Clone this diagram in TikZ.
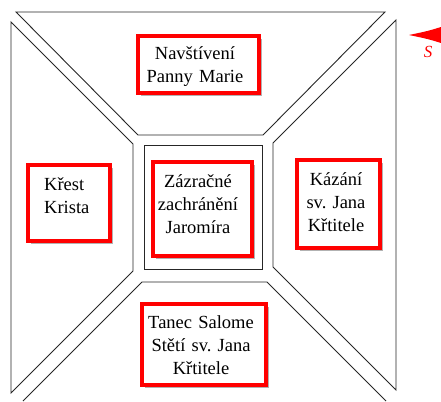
\documentclass[tikz,border=0pt]{standalone}
\usepackage{fontspec}
\setmainfont{Liberation Serif}
\newfontfamily\tnrfont{Liberation Serif}
\frenchspacing
\usetikzlibrary{shadows}
\begin{document}
\begin{tikzpicture}[x=1pt,y=-1pt,
  wall/.style={draw=black!85, line width=0.9pt, line join=miter},
  redbox/.style={draw=red, line width=4pt, fill=white, inner sep=0pt, outer sep=0pt,
     drop shadow={shadow xshift=3pt, shadow yshift=-3pt, opacity=0.3, fill=black}},
  txt/.style={font=\tnrfont\fontsize{18.5}{23}\selectfont\frenchspacing, inner sep=0pt, text width=140pt, align=center, anchor=base}]
\useasboundingbox (0,0) rectangle (441,401);
% walls
\draw[wall] (16,12) -- (385,12) -- (263,135) -- (138,135) -- cycle;
\draw[wall] (11,22) -- (133,144) -- (133,271) -- (11,393) -- cycle;
\draw[wall] (396,20) -- (273,143) -- (273,267) -- (396,390) -- cycle;
\draw[wall] (23,401) -- (142,282) -- (267,282) -- (386,401);
\draw[wall] (144,145) rectangle (262,269);
% boxes
\node[redbox, minimum width=121pt, minimum height=57pt] (visit) at (198.5,64.5) {};
\node[redbox, minimum width=82pt, minimum height=76pt] (krest) at (69,203) {};
\node[redbox, minimum width=99pt, minimum height=94pt] (zazr) at (202.5,209) {};
\node[redbox, minimum width=83pt, minimum height=88pt] (kazani) at (338.5,204) {};
\node[redbox, minimum width=124pt, minimum height=81pt] (tanec) at (204,344.5) {};
% texts
\node[txt] (tvisit) at (195,60) {Navštívení\\Panny Marie};
\node[txt, text width=60pt, align=left, anchor=base west] (tkrest) at (44,190) {Křest\\Krista};
\node[txt] (tzazr) at (198,187) {Zázračné\\zachránění\\Jaromíra};
\node[txt] (tkazani) at (336,185) {Kázání\\sv. Jana\\Křtitele};
\node[txt] (ttanec) at (201,328) {Tanec Salome\\Stětí sv. Jana\\Křtitele};
% compass
\fill[red] (441,27) .. controls (428,31) .. (409,35) .. controls (428,39) .. (441,43) -- cycle;
\node[red, font=\tnrfont\itshape\fontsize{17}{17}\selectfont, inner sep=0pt, anchor=base] (south) at (428,58) {S};
\end{tikzpicture}
\end{document}
